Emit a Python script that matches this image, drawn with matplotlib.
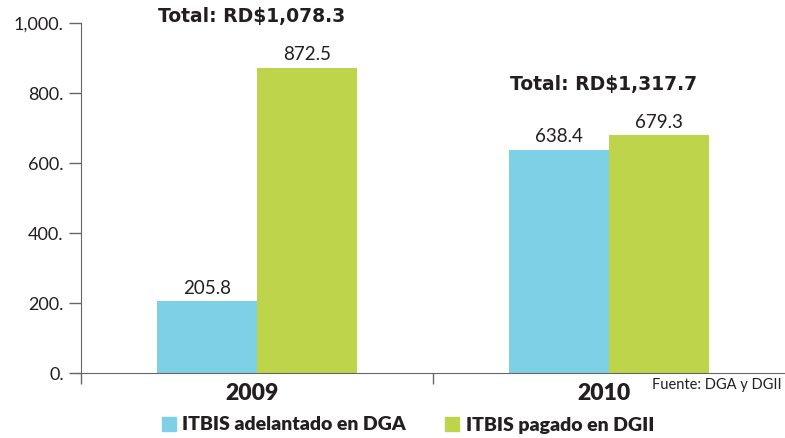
import numpy as np
import matplotlib.pyplot as plt
from matplotlib.patches import Patch

plt.rcParams['font.family'] = ['Lato', 'DejaVu Sans']

years = ['2009', '2010']
adelantado = [205.8, 638.4]
pagado = [872.5, 679.3]
totales = ['Total: RD$1,078.3', 'Total: RD$1,317.7']
yticks = [0, 200, 400, 600, 800, 1000]
ytick_labels = ['0.', '200.', '400.', '600.', '800.', '1,000.']

c_blue = '#7ed0e6'
c_green = '#bed44a'
ink = '#231f20'

fig = plt.figure(figsize=(7.85, 4.38), dpi=100)
ax = fig.add_axes([81 / 785, 65 / 438, 704 / 785, 350 / 438])

x = np.arange(len(years))
w = 0.283
b1 = ax.bar(x - w / 2, adelantado, w, color=c_blue)
b2 = ax.bar(x + w / 2, pagado, w, color=c_green)

for bars, vals in ((b1, adelantado), (b2, pagado)):
    for r, v in zip(bars, vals):
        ax.text(r.get_x() + r.get_width() / 2, v + 12, f'{v:.1f}',
                ha='center', va='bottom', fontsize=13.5, color=ink)

# totals above each group (tahoma-like bold in the original)
for i, t in enumerate(totales):
    top = max(adelantado[i], pagado[i])
    ax.text(x[i] - 0.015, top + 118, t, ha='center', va='bottom',
            fontsize=13.5, fontweight='bold', family='DejaVu Sans',
            color=ink, clip_on=False)

ax.set_xlim(-0.5, 1.5)
ax.set_ylim(0, 1000)
ax.set_yticks(yticks)
ax.set_yticklabels(ytick_labels, fontsize=13, color=ink)
ax.set_xticks([-0.5, 0.5])
ax.set_xticklabels(['', ''])
ax.tick_params(axis='y', length=9, color='#666666', width=1)
ax.tick_params(axis='x', length=8, color='#666666', width=1)
for s in ('top', 'right'):
    ax.spines[s].set_visible(False)
ax.spines['left'].set_color('#666666')
ax.spines['bottom'].set_color('#666666')
ax.spines['bottom'].set_bounds(-0.52, 1.5)

for i, y in enumerate(years):
    ax.text(x[i] - 0.015, -28, y, ha='center', va='top', fontsize=16.5,
            fontweight='heavy', color=ink)

fig.text(782 / 785, 1 - 385 / 438, 'Fuente: DGA y DGII', ha='right',
         va='center', fontsize=10.5, color=ink)

handles = [Patch(color=c_blue, label='ITBIS adelantado en DGA'),
           Patch(color=c_green, label='ITBIS pagado en DGII')]
leg = fig.legend(handles=handles, loc='center', bbox_to_anchor=(408 / 785, 1 - 425 / 438),
                 ncol=2, frameon=False, prop={'weight': 'heavy', 'size': 14},
                 handlelength=0.7, handleheight=0.7, columnspacing=2.0,
                 handletextpad=0.35, borderpad=0)
for t in leg.get_texts():
    t.set_color(ink)

fig.savefig('out.png', dpi=100)
